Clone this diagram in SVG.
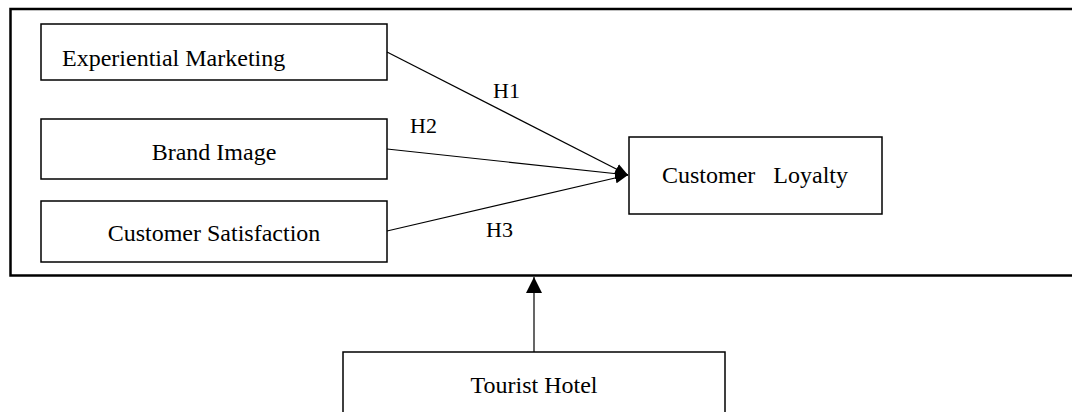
<svg xmlns="http://www.w3.org/2000/svg" width="1072" height="412" viewBox="0 0 1072 412">
<style>
.box{fill:#fff;stroke:#000;stroke-width:1.5}
.outer{fill:none;stroke:#000;stroke-width:2.5}
.t{font-family:"Liberation Serif","Times New Roman",serif;font-size:24px;fill:#000}
.h{font-family:"Liberation Serif","Times New Roman",serif;font-size:22px;fill:#000}
.c{text-anchor:middle}
.e{stroke:#000;stroke-width:1.2;fill:none}
</style>
<defs>
<marker id="ah" viewBox="0 0 13 11" refX="13" refY="5.5" markerWidth="13" markerHeight="11" markerUnits="userSpaceOnUse" orient="auto">
<path d="M0,0 L13,5.5 L0,11 Z" fill="#000"/>
</marker>
<marker id="ah2" viewBox="0 0 16 16" refX="16" refY="8" markerWidth="16" markerHeight="16" markerUnits="userSpaceOnUse" orient="auto">
<path d="M0,0 L16,8 L0,16 Z" fill="#000"/>
</marker>
</defs>
<rect id="context" class="outer" x="10.5" y="9" width="1080" height="266.5"/>
<g id="experiential-marketing">
<rect class="box" x="41" y="24" width="346" height="56"/>
<text class="t" x="62" y="66">Experiential Marketing</text>
</g>
<g id="brand-image">
<rect class="box" x="41" y="119" width="346" height="60"/>
<text class="t c" x="214" y="160">Brand Image</text>
</g>
<g id="customer-satisfaction">
<rect class="box" x="41" y="201" width="346" height="61"/>
<text class="t c" x="214" y="241">Customer Satisfaction</text>
</g>
<g id="customer-loyalty">
<rect class="box" x="629" y="137" width="253" height="77"/>
<text class="t" x="662" y="183" xml:space="preserve">Customer   Loyalty</text>
</g>
<g id="tourist-hotel">
<rect class="box" x="343" y="352" width="382" height="80"/>
<text class="t c" x="534" y="393">Tourist Hotel</text>
</g>
<g id="connectors">
<line class="e" x1="387" y1="52" x2="628" y2="175" marker-end="url(#ah)"/>
<line class="e" x1="387" y1="149" x2="628" y2="175" marker-end="url(#ah)"/>
<line class="e" x1="387" y1="231" x2="628" y2="175" marker-end="url(#ah)"/>
<line class="e" x1="534" y1="352" x2="534" y2="277" marker-end="url(#ah2)"/>
<text class="h" x="493" y="98">H1</text>
<text class="h" x="410" y="133">H2</text>
<text class="h" x="486" y="237">H3</text>
</g>
</svg>
